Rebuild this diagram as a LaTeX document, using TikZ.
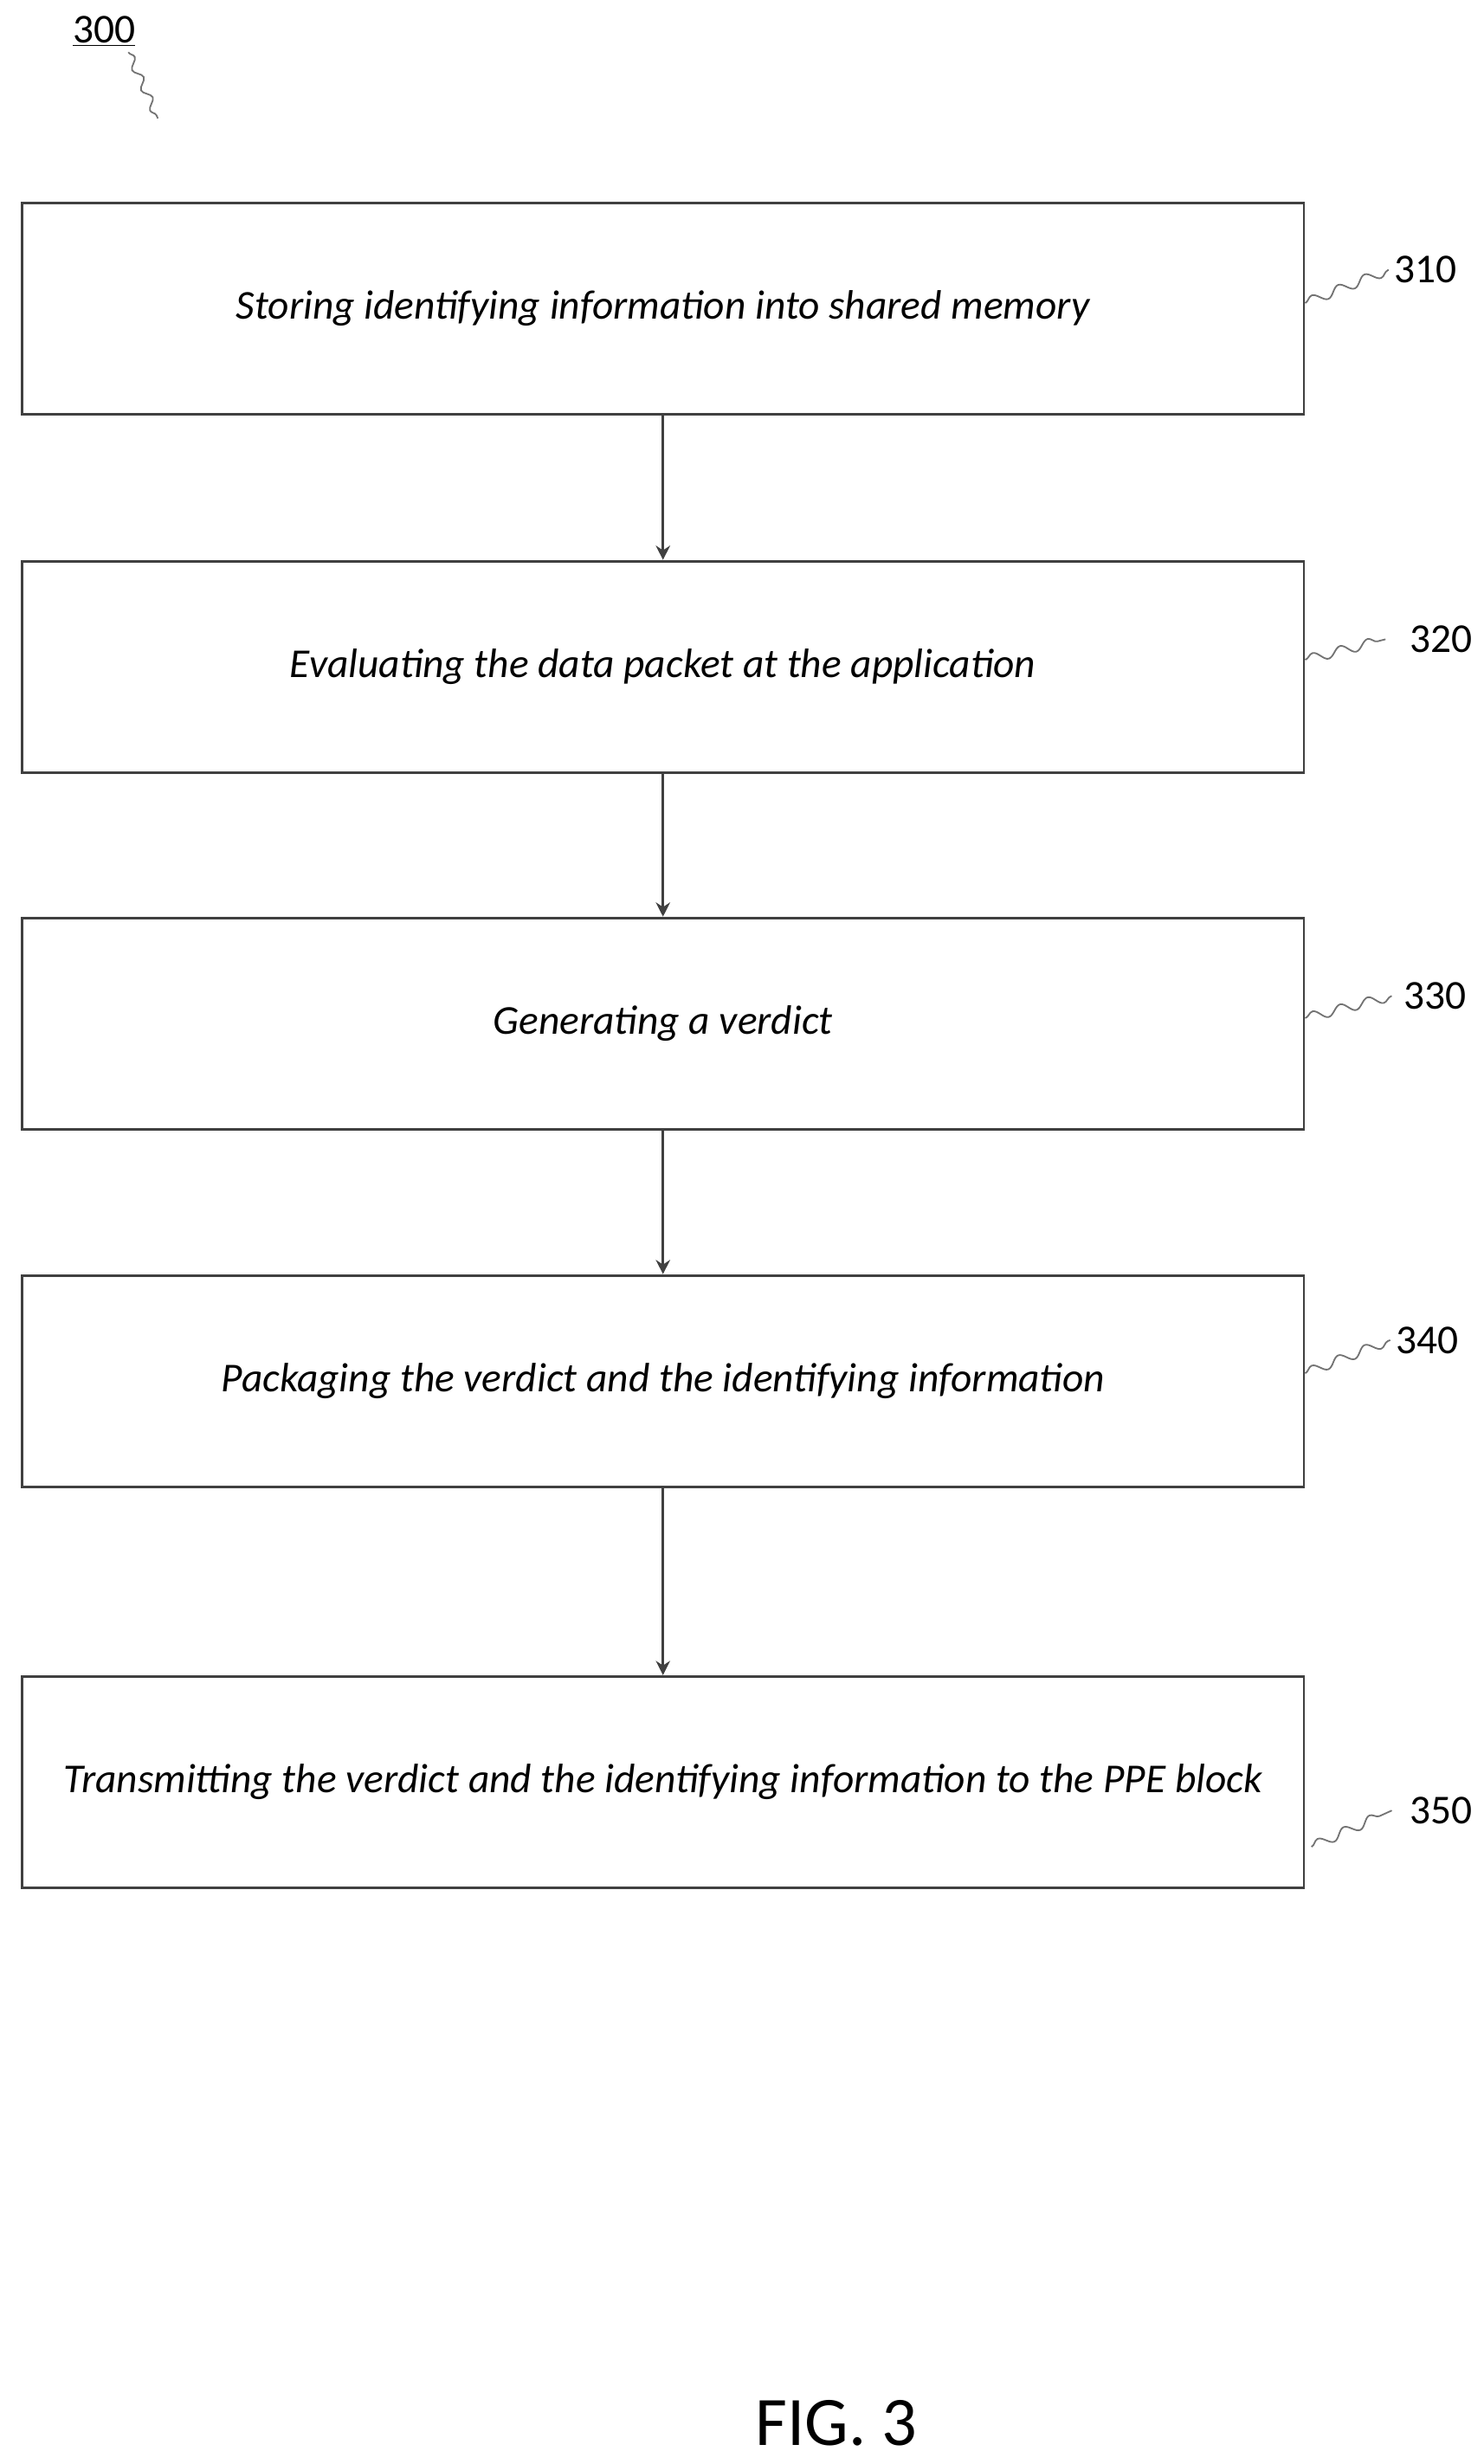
\documentclass[tikz,border=0pt]{standalone}
\usepackage{fontspec}
\setmainfont{Carlito}
\usetikzlibrary{positioning,arrows.meta,decorations.pathmorphing}
\begin{document}
\begin{tikzpicture}[
    x=1pt, y=-1pt,
    font=\itshape\fontsize{26}{30}\selectfont,
    stepbox/.style={draw=black!75, line width=1.6pt, minimum width=812pt, minimum height=134pt, inner sep=0pt},
    flow/.style={draw=black!75, line width=1.4pt, -{Stealth[length=9pt,width=9pt]}},
    squig/.style={draw=black!55, line width=1pt, decorate, decoration={snake, amplitude=3pt, segment length=18pt}},
    refnum/.style={font=\upshape\fontsize{26}{30}\selectfont}
]
    \useasboundingbox (0,0) rectangle (940,1561);

    % Steps
    \node[stepbox] (s310) at (420,195.5) {Storing identifying information into shared memory};
    \node[stepbox] (s320) at (420,422.5) {Evaluating the data packet at the application};
    \node[stepbox] (s330) at (420,648.5) {Generating a verdict};
    \node[stepbox] (s340) at (420,875) {Packaging the verdict and the identifying information};
    \node[stepbox] (s350) at (420,1129) {Transmitting the verdict and the identifying information to the PPE block};

    % Flow
    \draw[flow] (s310) -- (s320);
    \draw[flow] (s320) -- (s330);
    \draw[flow] (s330) -- (s340);
    \draw[flow] (s340) -- (s350);

    % Reference numerals
    \node[refnum] (n310) at (903,171) {310};
    \node[refnum] (n320) at (913,405) {320};
    \node[refnum] (n330) at (909,631) {330};
    \node[refnum] (n340) at (904,849) {340};
    \node[refnum] (n350) at (913,1147) {350};
    \draw[squig] (s310.east |- 0,192) -- (n310.west);
    \draw[squig] (s320.east |- 0,418) -- ([xshift=-12pt]n320.west);
    \draw[squig] (s330.east |- 0,645) -- ([xshift=-4pt]n330.west);
    \draw[squig] (s340.east |- 0,870) -- (n340.west);
    \draw[squig] ([xshift=4pt]s350.east |- 0,1170) -- ([xshift=-8pt]n350.west);

    % Figure number
    \node[refnum] (n300) at (66,20) {\underline{300}};
    \coordinate (t300) at (100,75);
    \draw[squig, decoration={snake, amplitude=2.5pt, segment length=14pt}] ([xshift=-8pt]n300.south east) -- (t300);
    \node[font=\upshape\fontsize{44}{52}\selectfont] (fig) at (530,1535) {FIG. 3};
\end{tikzpicture}
\end{document}
